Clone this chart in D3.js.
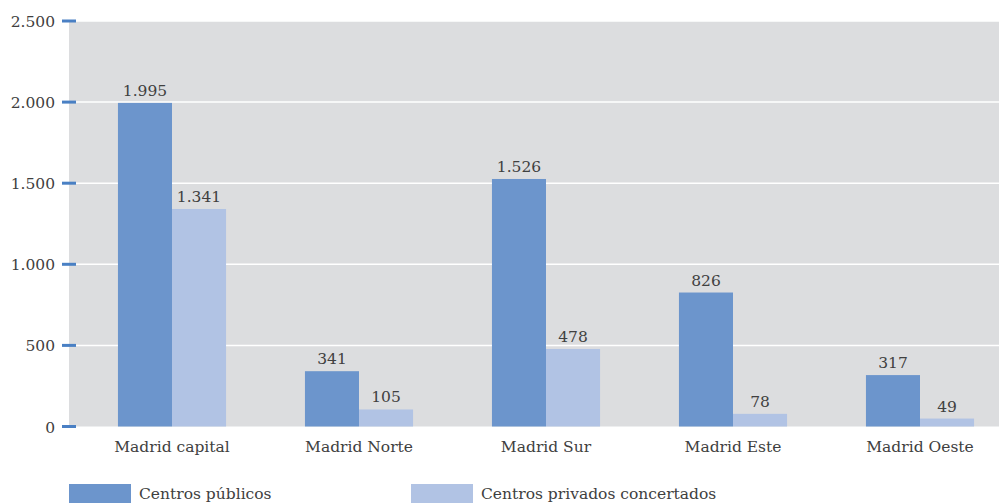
<!DOCTYPE html>
<html><head><meta charset="utf-8">
<script src="https://cdn.jsdelivr.net/npm/d3@7"></script>
<style>body{margin:0;background:#fff;}svg{display:block;}text{font-family:"DejaVu Serif","Liberation Serif",serif;fill:#404040;}</style>
</head><body>
<svg id="c" width="999" height="503"></svg>
<script>
const categories = ["Madrid capital","Madrid Norte","Madrid Sur","Madrid Este","Madrid Oeste"];
const seriesNames = ["Centros públicos","Centros privados concertados"];
const publicos = [1995, 341, 1526, 826, 317];
const concertados = [1341, 105, 478, 78, 49];
const yTicks = [0, 500, 1000, 1500, 2000, 2500];
const colors = ["#6c95cc", "#b1c3e4"];

const svg = d3.select("#c");
const fmt = v => d3.format(",")(v).replace(/,/g, ".");
const FS = 15.5;

const y = d3.scaleLinear().domain([0, 2500]).range([426.5, 21]);
const x0 = d3.scaleBand().domain(categories).range([78.5, 1013.5]).paddingInner(0).paddingOuter(0);
const x1 = d3.scaleBand().domain([0,1]).range([0, x0.bandwidth()]).paddingInner(0).paddingOuter(0.73);

svg.append("rect").attr("x", 69).attr("y", y(2500)).attr("width", 999-69).attr("height", y(0)-y(2500)).attr("fill", "#dcdddf");

svg.append("g").selectAll("line").data(yTicks.filter(d=>d>0)).join("line")
  .attr("x1", 69).attr("x2", 999).attr("y1", d=>y(d)).attr("y2", d=>y(d))
  .attr("stroke", "#fff").attr("stroke-width", 1.5);

const data = categories.map((c,i)=>({c, vals:[publicos[i], concertados[i]]}));
const g = svg.append("g").selectAll("g").data(data).join("g").attr("transform", d=>`translate(${x0(d.c)},0)`);
g.selectAll("rect").data(d=>d.vals.map((v,k)=>({v,k}))).join("rect")
  .attr("x", d=>x1(d.k)).attr("width", x1.bandwidth())
  .attr("y", d=>y(d.v)).attr("height", d=>y(0)-y(d.v)).attr("fill", d=>colors[d.k]);
g.selectAll("text").data(d=>d.vals.map((v,k)=>({v,k}))).join("text")
  .attr("x", d=>x1(d.k)+x1.bandwidth()/2).attr("y", d=>y(d.v)-7)
  .attr("text-anchor","middle").attr("font-size", FS).text(d=>fmt(d.v));

// y axis
const yAxis = svg.append("g");
yAxis.selectAll("rect").data(yTicks).join("rect")
  .attr("x", 62).attr("y", d=>y(d)-1.5).attr("width", 14).attr("height", 3).attr("fill", "#4a80c4");
yAxis.selectAll("text").data(yTicks).join("text")
  .attr("x", 55).attr("y", d=>y(d)+6).attr("text-anchor","end").attr("font-size", FS).text(d=>fmt(d));

// x labels
svg.append("g").selectAll("text").data(categories).join("text")
  .attr("x", d=>x0(d)+x0.bandwidth()/2).attr("y", 452).attr("text-anchor","middle").attr("font-size", FS).text(d=>d);

// legend
const leg = svg.append("g");
const lx = [69, 411];
seriesNames.forEach((n,i)=>{
  leg.append("rect").attr("x", lx[i]).attr("y", 484).attr("width", 62).attr("height", 20).attr("fill", colors[i]);
  leg.append("text").attr("x", lx[i]+70).attr("y", 499).attr("font-size", FS).text(n);
});
</script>
</body></html>
